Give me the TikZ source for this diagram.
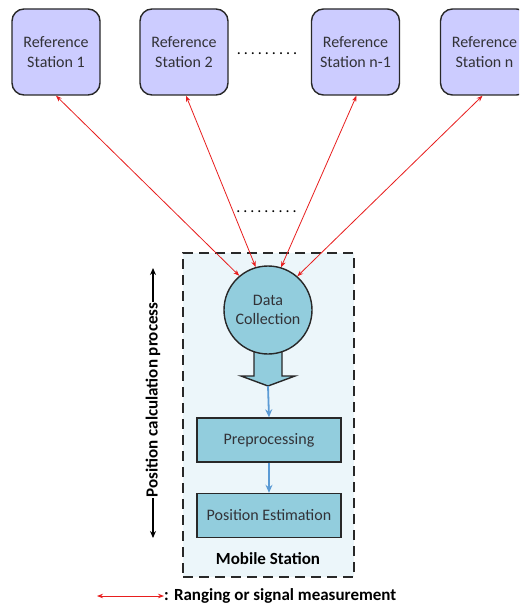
\documentclass[tikz,border=0pt]{standalone}
\usepackage{fontspec}
\setmainfont{Carlito}
\usetikzlibrary{arrows.meta,calc}
\definecolor{lav}{RGB}{204,204,255}
\definecolor{teal1}{RGB}{146,205,221}
\definecolor{boxbg}{RGB}{236,246,250}
\definecolor{edge}{RGB}{40,40,40}
\definecolor{txt}{RGB}{50,50,55}
\definecolor{sigred}{RGB}{232,30,30}
\definecolor{flowblue}{RGB}{91,155,213}
\newcommand{\mydots}{.\hspace{3pt}.\hspace{3pt}.\hspace{3pt}.\hspace{3pt}.\hspace{3pt}.\hspace{3pt}.\hspace{3pt}.\hspace{3pt}.}
\tikzset{
  refst/.style={draw=edge, line width=1.4pt, fill=lav, rounded corners=12pt,
    minimum width=88pt, minimum height=86pt, align=center, text=txt,
    font=\fontsize{16}{19.5}\selectfont},
  procbox/.style={draw=edge, line width=1.4pt, fill=teal1, minimum width=144pt,
    minimum height=44pt, text=txt, font=\fontsize{16}{19.5}\selectfont},
  sig/.style={draw=sigred, line width=0.8pt, {Stealth[length=6pt,width=4.5pt]}-{Stealth[length=6pt,width=4.5pt]}},
  flow/.style={draw=flowblue, line width=1.8pt, -{Stealth[length=8pt,width=7pt]}},
  lbl/.style={font=\bfseries\fontsize{17}{20}\selectfont, text=black},
  dotsl/.style={font=\fontsize{16}{19}\selectfont, text=black, inner sep=0pt, anchor=base}
}
\begin{document}
\begin{tikzpicture}[x=1pt,y=-1pt]
\clip (0,0) rectangle (519,604);
\fill[white] (0,0) rectangle (519,604);
% mobile station frame
\node[draw=edge, line width=1.6pt, dash pattern=on 10pt off 6pt, fill=boxbg,
  minimum width=171pt, minimum height=324pt, inner sep=0pt] (ms) at (268.5,415) {};
% reference stations
\node[refst] (r1) at (56,52) {Reference\\Station 1};
\node[refst] (r2) at (184,52) {Reference\\Station 2};
\node[refst] (r3) at (355.5,52) {Reference\\Station n-1};
\node[refst] (r4) at (484.5,52) {Reference\\Station n};
\node[dotsl] (d1) at (267,55) {\mydots};
\node[dotsl] (d2) at (266.5,212) {\mydots};
% block arrow (drawn before circle so the circle covers its top)
\coordinate (ba) at (268,354);
\draw[draw=edge, line width=1.4pt, fill=teal1]
  ($(ba)+(-14,-6)$) -- ($(ba)+(-14,22)$) -- ($(ba)+(-27,22)$) -- ($(ba)+(0,32)$) coordinate (tip)
  -- ($(ba)+(27,22)$) -- ($(ba)+(14,22)$) -- ($(ba)+(14,-6)$) -- cycle;
% data collection
\node[circle, draw=edge, line width=1.4pt, fill=teal1, minimum size=88pt,
  align=center, text=txt, font=\fontsize{16}{19.5}\selectfont, inner sep=0pt]
  (dc) at (268,310) {Data\\Collection};
% signals
\draw[sig] (r1.south) -- (dc.130);
\draw[sig] (r2.south) ++(2,0) coordinate (r2s) (r2s) -- (dc.106);
\draw[sig] (r3.south) ++(1,0) coordinate (r3s) (r3s) -- (dc.73);
\draw[sig] (r4.south) ++(-2,0) coordinate (r4s) (r4s) -- (dc.49);
% process boxes
\node[procbox] (pre) at (269,440) {Preprocessing};
\node[procbox] (pe) at (269,515.5) {Position Estimation};
\draw[flow] (tip) -- (pre.north);
\draw[flow] (pre.south) -- (pe.north);
\node[lbl] (mst) at (268,559) {Mobile Station};
% vertical process arrow
\node[lbl, rotate=90, inner sep=1pt] (pcp) at (153,400) {Position calculation process};
\coordinate (pt) at (153,268);
\coordinate (pb) at (153,538);
\draw[line width=1.2pt, -{Stealth[length=7pt,width=6pt]}] (pcp.east) -- (pt);
\draw[line width=1.2pt, -{Stealth[length=7pt,width=6pt]}] (pcp.west) -- (pb);
% legend
\coordinate (la) at (97,596);
\coordinate (lb) at (164,596);
\draw[sig] (la) -- (lb);
\node[lbl, anchor=west, inner sep=0pt] (leg) at (lb) {: Ranging or signal measurement};
\end{tikzpicture}
\end{document}
